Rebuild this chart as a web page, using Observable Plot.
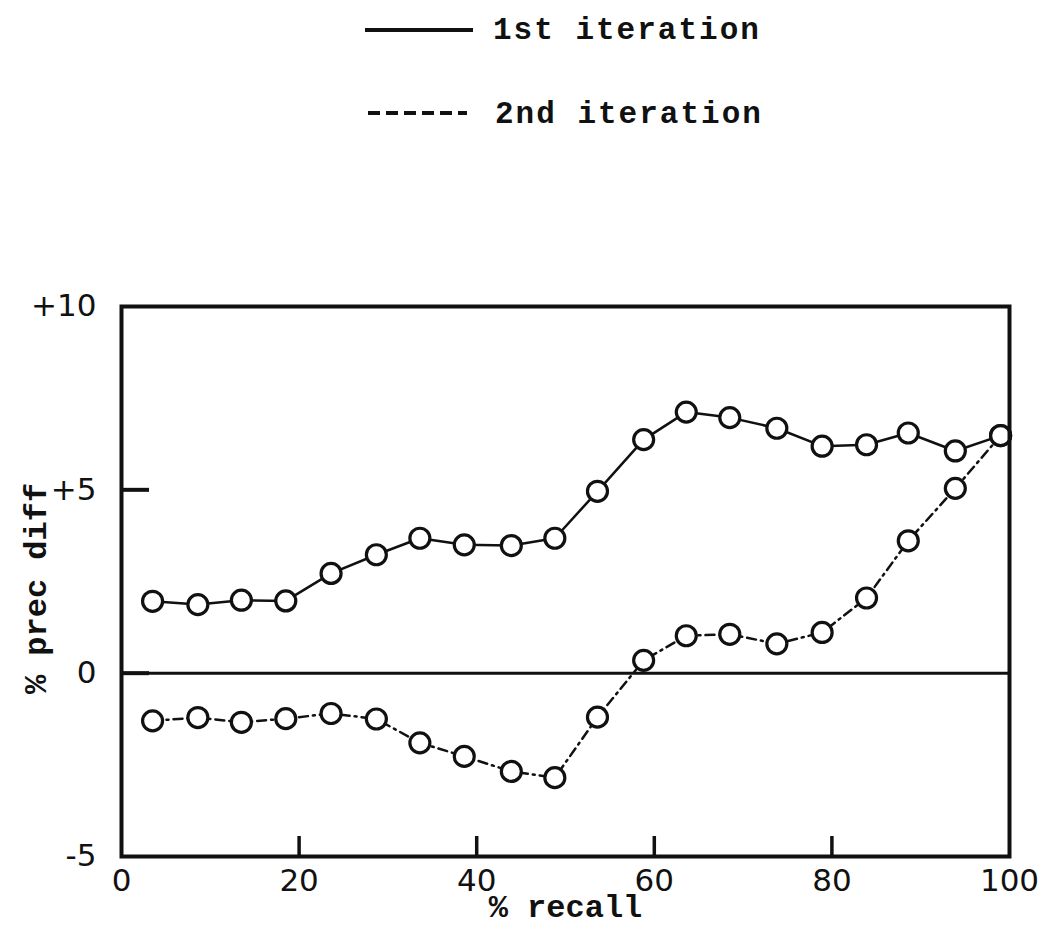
<!DOCTYPE html>
<html><head><meta charset="utf-8">
<script src="https://cdn.jsdelivr.net/npm/d3@7"></script>
<script src="https://cdn.jsdelivr.net/npm/@observablehq/plot@0.6"></script>
<style>
body{margin:0;background:#fff;}
#legend{position:relative;width:1041px;height:140px;}
#chart svg{display:block;}
</style></head><body>
<div id="legend"></div>
<div id="chart"></div>
<script>
// % recall positions of the plotted points
const recall = [3.5, 8.6, 13.5, 18.5, 23.6, 28.7, 33.6, 38.6, 43.9, 48.8, 53.6, 58.8, 63.6, 68.5, 73.8, 78.9, 83.9, 88.6, 93.9, 99];
// % precision difference, 1st iteration (solid)
const iter1 = [1.96, 1.87, 1.99, 1.97, 2.72, 3.23, 3.68, 3.50, 3.48, 3.68, 4.96, 6.37, 7.12, 6.97, 6.68, 6.19, 6.23, 6.55, 6.06, 6.48];
// % precision difference, 2nd iteration (dashed)
const iter2 = [-1.30, -1.21, -1.34, -1.24, -1.10, -1.25, -1.90, -2.27, -2.68, -2.85, -1.20, 0.35, 1.02, 1.06, 0.80, 1.11, 2.05, 3.61, 5.04, 6.48];
const seriesNames = ["1st iteration", "2nd iteration"];
const xTicks = [0, 20, 40, 60, 80, 100];
const xInnerTicks = [20, 40, 60, 80];
const yTicks = [-5, 0, 5, 10];
const yInnerTicks = [0, 5];
const xLabel = "% recall";
const yLabel = "% prec diff";

const ink = "#111";
const mono = "'Liberation Mono', 'DejaVu Sans Mono', monospace";

// Legend (above the chart)
const lg = d3.select("#legend").append("svg").attr("width", 1041).attr("height", 140);
const rows = [
  {name: seriesNames[0], y: 30, base: 39, dash: null, x1: 365, x2: 473, tx: 493},
  {name: seriesNames[1], y: 113, base: 123, dash: "12,6", x1: 368, x2: 467, tx: 495}
];
rows.forEach(r => {
  lg.append("line").attr("x1", r.x1).attr("x2", r.x2).attr("y1", r.y).attr("y2", r.y)
    .attr("stroke", ink).attr("stroke-width", 4).attr("stroke-dasharray", r.dash);
  lg.append("text").attr("x", r.tx).attr("y", r.base).text(r.name)
    .attr("font-family", mono).attr("font-weight", "bold").attr("font-size", 31)
    .attr("letter-spacing", "2px").attr("fill", ink);
});

const d1 = recall.map((r, i) => ({recall: r, diff: iter1[i]}));
const d2 = recall.map((r, i) => ({recall: r, diff: iter2[i]}));

const chart = Plot.plot({
  width: 1041,
  height: 786,
  marginTop: 166,
  marginBottom: 70,
  marginLeft: 121,
  marginRight: 32,
  x: {domain: [0, 100]},
  y: {domain: [-5, 10]},
  style: {fontFamily: "'DejaVu Sans', sans-serif", fontSize: "30px", color: ink, background: "#fff"},
  marks: [
    Plot.ruleY([0], {stroke: ink, strokeWidth: 3}),
    Plot.axisX({ticks: xTicks, tickSize: 0, tickPadding: 12, label: null, fontSize: 31}),
    Plot.axisX({ticks: xInnerTicks, tickSize: -20, text: null, stroke: ink, strokeWidth: 3.5, label: null}),
    Plot.axisY({ticks: yTicks, tickSize: 0, tickPadding: 25, label: null, fontSize: 31,
      tickFormat: d => d > 0 ? "+" + d : String(d)}),
    Plot.axisY({ticks: yInnerTicks, tickSize: -28, text: null, stroke: ink, strokeWidth: 4, label: null}),
    Plot.line(d1, {x: "recall", y: "diff", stroke: ink, strokeWidth: 2.5}),
    Plot.line(d2, {x: "recall", y: "diff", stroke: ink, strokeWidth: 2.5, strokeDasharray: "9,5,2,5"}),
    Plot.dot(d1, {x: "recall", y: "diff", r: 10, fill: "#fff", stroke: ink, strokeWidth: 3.2}),
    Plot.dot(d2, {x: "recall", y: "diff", r: 10, fill: "#fff", stroke: ink, strokeWidth: 3.2}),
    Plot.frame({stroke: ink, strokeWidth: 4}),
    Plot.text([xLabel], {text: d => d, frameAnchor: "bottom", dy: 60, textAnchor: "middle",
      fontFamily: mono, fontWeight: "bold", fontSize: 32, fill: ink}),
    Plot.text([yLabel], {text: d => d, frameAnchor: "left", dx: -86, dy: 7, rotate: -90,
      textAnchor: "middle", lineAnchor: "middle",
      fontFamily: mono, fontWeight: "bold", fontSize: 32, fill: ink})
  ]
});
document.getElementById("chart").appendChild(chart);
</script>
</body></html>
